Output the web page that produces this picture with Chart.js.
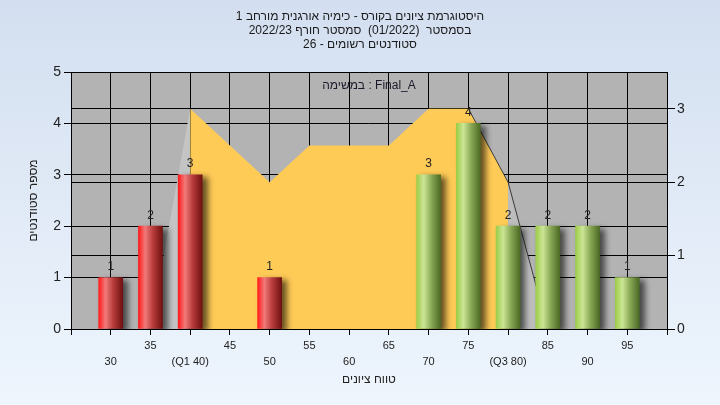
<!DOCTYPE html>
<html>
<head>
<meta charset="utf-8">
<script src="https://cdn.jsdelivr.net/npm/chart.js@4.4.1/dist/chart.umd.min.js"></script>
<style>
    html, body { margin: 0; padding: 0; background: #e2ebf7; }
    canvas { display: block; }
</style>
</head>
<body>
<canvas id="histChart" width="720" height="405"></canvas>
<script>
// grade buckets and number of students in each
const grades = [30, 35, 40, 45, 50, 55, 60, 65, 70, 75, 80, 85, 90, 95];
const tickLabels = ["30", "35", "(Q1 40)", "45", "50", "55", "60", "65", "70", "75", "(Q3 80)", "85", "90", "95"];
const studentCounts = [1, 2, 3, 0, 1, 0, 0, 0, 3, 4, 2, 2, 2, 1];

// area series (right axis)
const curveGrades = [40, 45, 50, 55, 60, 65, 70, 75, 80];
const curveValues = [3, 2.5, 2, 2.5, 2.5, 2.5, 3, 3, 2];
const leftEdgeGrades = [35, 40];
const leftEdgeValues = [0, 3];
const rightEdgeGrades = [75, 80, 85];
const rightEdgeValues = [3, 2, 0];

const titleLines = [
    "היסטוגרמת ציונים בקורס - כימיה אורגנית מורחב 1",
    "בסמסטר  (01/2022)  סמסטר חורף 2022/23",
    "סטודנטים רשומים - 26"
];
const seriesName = "במשימה : Final_A";
const xTitle = "טווח ציונים";
const yTitle = "מספר סטודנטים";
const passMark = 60;

const FONT = "'Liberation Sans', 'DejaVu Sans', sans-serif";

const toPoints = (xs, ys) => xs.map((x, i) => ({ x, y: ys[i] }));

function barFill(context) {
    const chart = context.chart;
    const i = context.dataIndex;
    const pass = grades[i] >= passMark;
    const stops = pass
        ? [[0, "#9dcc48"], [0.3, "#cbe696"], [0.6, "#8cab58"], [1, "#4b6a24"]]
        : [[0, "#ff1a1a"], [0.28, "#f27a7a"], [0.6, "#b83c3c"], [1, "#701010"]];
    if (!chart.chartArea || i === undefined) return stops[0][1];
    const x = chart.scales.x.getPixelForValue(grades[i]);
    const g = chart.ctx.createLinearGradient(x - 12, 0, x + 12, 0);
    stops.forEach(([o, c]) => g.addColorStop(o, c));
    return g;
}

const backdrop = {
    id: "backdrop",
    beforeDraw(chart) {
        const { ctx, chartArea: a, width, height } = chart;
        const g = ctx.createLinearGradient(0, 0, 0, height);
        g.addColorStop(0, "#d3dff0");
        g.addColorStop(1, "#eef5fd");
        ctx.save();
        ctx.fillStyle = g;
        ctx.fillRect(0, 0, width, height);
        ctx.fillStyle = "#b3b3b3";
        ctx.fillRect(a.left, a.top, a.right - a.left, a.bottom - a.top);
        ctx.restore();
    }
};

const barShadow = {
    id: "barShadow",
    beforeDatasetDraw(chart, args) {
        if (args.meta.type !== "bar") return;
        const c = chart.ctx;
        c.save();
        c.shadowColor = "rgba(0,0,0,0.6)";
        c.shadowBlur = 6;
        c.shadowOffsetX = 5;
        c.shadowOffsetY = 3;
    },
    afterDatasetDraw(chart, args) {
        if (args.meta.type === "bar") chart.ctx.restore();
    }
};

const valueLabels = {
    id: "valueLabels",
    afterDatasetsDraw(chart) {
        const { ctx, chartArea: a } = chart;
        ctx.save();
        ctx.font = "12px " + FONT;
        ctx.fillStyle = "#222";
        ctx.textAlign = "center";
        ctx.textBaseline = "middle";
        chart.getSortedVisibleDatasetMetas().forEach(meta => {
            if (meta.type !== "bar") return;
            meta.data.forEach((el, i) => {
                if (!studentCounts[i]) return;
                ctx.fillText(String(studentCounts[i]), el.x, el.y - 11);
            });
        });
        ctx.fillStyle = "#1a1a2a";
        ctx.fillText(seriesName, (a.left + a.right) / 2, a.top + 14);
        ctx.restore();
    }
};

new Chart(document.getElementById("histChart"), {
    type: "bar",
    data: {
        datasets: [
            {
                type: "bar",
                data: grades.map((g, i) => ({ x: g, y: studentCounts[i] > 0 ? studentCounts[i] : null })),
                yAxisID: "y",
                backgroundColor: barFill,
                borderWidth: 0,
                barThickness: 24,
                order: 0
            },
            {
                type: "line",
                data: toPoints(curveGrades, curveValues),
                yAxisID: "y2",
                fill: "origin",
                backgroundColor: "#ffcb57",
                borderWidth: 0,
                pointRadius: 0,
                tension: 0,
                order: 1
            },
            {
                type: "line",
                data: toPoints(leftEdgeGrades, leftEdgeValues),
                yAxisID: "y2",
                fill: "origin",
                backgroundColor: "#c4c4c4",
                borderWidth: 0,
                pointRadius: 0,
                order: 2
            },
            {
                type: "line",
                data: toPoints(rightEdgeGrades, rightEdgeValues),
                yAxisID: "y2",
                fill: "origin",
                backgroundColor: "#bdbdbd",
                borderColor: "#3a3a3a",
                borderWidth: 1,
                pointRadius: 0,
                order: 2
            }
        ]
    },
    options: {
        responsive: false,
        animation: false,
        devicePixelRatio: 1,
        layout: { padding: 0 },
        plugins: {
            legend: { display: false },
            tooltip: { enabled: false },
            filler: { drawTime: "beforeDatasetsDraw" },
            title: {
                display: true,
                text: titleLines,
                color: "#1a1a1a",
                font: { family: FONT, size: 12, weight: "normal", lineHeight: "14px" },
                padding: { top: 10, bottom: 20 }
            }
        },
        scales: {
            x: {
                type: "linear",
                min: 25,
                max: 100,
                offset: false,
                ticks: {
                    stepSize: 5,
                    autoSkip: false,
                    maxRotation: 0,
                    color: "#222",
                    padding: 3,
                    font: { family: FONT, size: 11, lineHeight: "16px" },
                    callback: v => {
                        const i = grades.indexOf(v);
                        if (i < 0) return "";
                        return i % 2 === 0 ? ["", tickLabels[i]] : tickLabels[i];
                    }
                },
                grid: { color: "#000", tickLength: 6, offset: false },
                border: { color: "#000" },
                title: {
                    display: true,
                    text: xTitle,
                    color: "#222",
                    font: { family: FONT, size: 12 },
                    padding: { bottom: 18 }
                },
                afterFit(s) { s.height = 76; }
            },
            y: {
                position: "left",
                min: 0,
                max: 5,
                ticks: { stepSize: 1, color: "#222", padding: 3, font: { family: FONT, size: 14 } },
                grid: { color: "#000", tickLength: 7 },
                border: { color: "#000" },
                title: {
                    display: true,
                    text: yTitle,
                    color: "#222",
                    font: { family: FONT, size: 12 },
                    padding: { top: 26 }
                },
                afterFit(s) { s.width = 71; }
            },
            y2: {
                position: "right",
                min: 0,
                max: 3.5,
                ticks: { stepSize: 1, color: "#222", padding: 2, font: { family: FONT, size: 14 } },
                afterBuildTicks(s) { s.ticks = s.ticks.filter(t => Number.isInteger(t.value)); },
                grid: { color: "#000", tickLength: 8 },
                border: { color: "#000" },
                afterFit(s) { s.width = 53; }
            }
        }
    },
    plugins: [backdrop, barShadow, valueLabels]
});
</script>
</body>
</html>
